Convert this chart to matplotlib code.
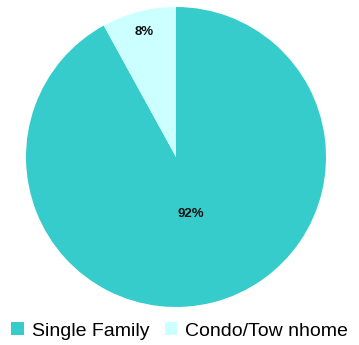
import matplotlib
matplotlib.use('Agg')
from matplotlib import pyplot as plt
import numpy as np

plt.rcParams['font.family'] = ['Liberation Sans', 'DejaVu Sans']

labels = ['Single Family', 'Condo/Tow nhome']
values = [92, 8]
colors = ['#36CCCC', '#CCFFFF']

fig = plt.figure(figsize=(3.59, 3.45), dpi=100)
ax = fig.add_axes([26 / 359, 38 / 345, 300 / 359, 300 / 345])

wedges, texts, autotexts = ax.pie(values, colors=colors, startangle=90, counterclock=False,
                                  autopct='%d%%', pctdistance=0.86,
                                  textprops={'fontsize': 9.5, 'fontweight': 'bold', 'color': '#111111'})
# big slice label sits closer to the centre
x, y = autotexts[0].get_position()
autotexts[0].set_position((x * 0.39 / 0.86, y * 0.39 / 0.86))
ax.set_xlim(-1, 1)
ax.set_ylim(-1, 1)
ax.set_aspect('equal')

fig.legend(wedges, labels, loc='center', bbox_to_anchor=(0.5, 14 / 345), ncol=2,
           frameon=False, fontsize=14, handlelength=0.65, handleheight=0.65,
           handletextpad=0.4, columnspacing=0.8, borderpad=0)

plt.savefig('out.png', dpi=100)
